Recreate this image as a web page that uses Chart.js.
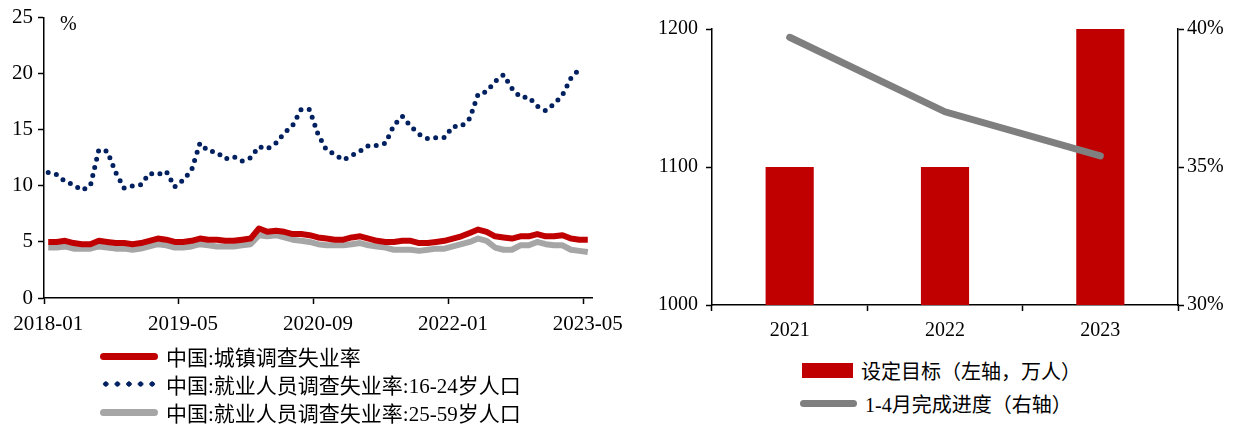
<!DOCTYPE html>
<html>
<head>
<meta charset="utf-8">
<script src="https://cdn.jsdelivr.net/npm/chart.js@4.4.0/dist/chart.umd.min.js"></script>
<style>
    html, body { margin: 0; padding: 0; background: #fff; }
    #wrap { position: relative; width: 1249px; height: 428px; overflow: hidden;
            font-family: "Liberation Serif", "Noto Sans CJK SC", serif; color: #000; }
    #leftChart  { position: absolute; left: 0; top: 0; }
    #rightChart { position: absolute; left: 620px; top: 0; }
    .item { position: absolute; height: 28px; display: flex; align-items: center; white-space: nowrap; }
    .sw   { display: inline-block; margin-right: 8px; }
</style>
</head>
<body>
<div id="wrap">
    <canvas id="leftChart" width="660" height="345"></canvas>
    <canvas id="rightChart" width="629" height="345"></canvas>
    <div id="legendLeft"></div>
    <div id="legendRight"></div>
</div>

<script>
// ============================================================
// 左图：失业率（月度，2018-01 ~ 2023-05）
// ============================================================

var START_YEAR  = 2018;
var MONTH_COUNT = 65;
var MONTHS = [];
for (var k = 0; k < MONTH_COUNT; k++) {
    var yy = START_YEAR + Math.floor(k / 12);
    var mm = (k % 12) + 1;
    MONTHS.push(yy + "-" + (mm < 10 ? "0" + mm : mm));
}

var SERIES_NAMES = [
    "中国:城镇调查失业率",
    "中国:就业人员调查失业率:16-24岁人口",
    "中国:就业人员调查失业率:25-59岁人口"
];

// 城镇调查失业率
var URBAN = [
    5.0, 5.0, 5.1, 4.9, 4.8, 4.8, 5.1, 5.0, 4.9, 4.9, 4.8, 4.9,
    5.1, 5.3, 5.2, 5.0, 5.0, 5.1, 5.3, 5.2, 5.2, 5.1, 5.1, 5.2,
    5.3, 6.2, 5.9, 6.0, 5.9, 5.7, 5.7, 5.6, 5.4, 5.3, 5.2, 5.2,
    5.4, 5.5, 5.3, 5.1, 5.0, 5.0, 5.1, 5.1, 4.9, 4.9, 5.0, 5.1,
    5.3, 5.5, 5.8, 6.1, 5.9, 5.5, 5.4, 5.3, 5.5, 5.5, 5.7, 5.5,
    5.5, 5.6, 5.3, 5.2, 5.2
];

// 16-24岁（到 2023-04）
var YOUTH = [
    11.2, 11.0, 10.4, 10.1, 9.6, 10.0, 13.2, 13.1, 11.2, 9.8, 10.0, 10.1,
    11.1, 11.0, 11.3, 9.9, 10.5, 11.4, 13.8, 13.1, 13.0, 12.4, 12.6, 12.2,
    12.5, 13.5, 13.3, 13.8, 14.7, 15.4, 16.8, 16.8, 14.6, 13.2, 12.8, 12.3,
    12.7, 13.1, 13.6, 13.6, 13.8, 15.4, 16.2, 15.3, 14.6, 14.2, 14.3, 14.3,
    15.3, 15.3, 16.0, 18.2, 18.4, 19.3, 19.9, 18.7, 17.9, 17.9, 17.1, 16.7,
    17.3, 18.1, 19.6, 20.4
];

// 25-59岁
var PRIME = [
    4.5, 4.5, 4.6, 4.4, 4.4, 4.4, 4.6, 4.5, 4.4, 4.4, 4.3, 4.4,
    4.6, 4.8, 4.7, 4.5, 4.5, 4.6, 4.8, 4.7, 4.6, 4.6, 4.6, 4.7,
    4.8, 5.6, 5.5, 5.6, 5.4, 5.2, 5.1, 5.0, 4.8, 4.7, 4.7, 4.7,
    4.8, 4.9, 4.7, 4.6, 4.5, 4.3, 4.3, 4.3, 4.2, 4.3, 4.4, 4.4,
    4.6, 4.8, 5.0, 5.3, 5.1, 4.5, 4.3, 4.3, 4.7, 4.7, 5.0, 4.8,
    4.7, 4.7, 4.3, 4.2, 4.1
];

var LEFT_TICK_EVERY = 16;

// ============================================================
// 右图：目标与完成进度
// ============================================================

var YEARS        = ["2021", "2022", "2023"];
var TARGET       = [1100, 1100, 1200];   // 万人
var PROGRESS     = [39.7, 37.0, 35.4];   // %
var RIGHT_NAMES  = ["设定目标（左轴，万人）", "1-4月完成进度（右轴）"];

var RED   = "#c00000";
var NAVY  = "#002060";
var LGRAY = "#a6a6a6";
var DGRAY = "#7f7f7f";
var FONT  = "'Liberation Serif', 'Noto Sans CJK SC', serif";

Chart.defaults.font.family = FONT;
Chart.defaults.color = "#000";

function fixWidth(w)  { return function (s) { s.width = w; }; }
function fixHeight(h) { return function (s) { s.height = h; }; }

// "%" 单位标注
var unitLabel = {
    id: "unitLabel",
    afterDraw: function (chart) {
        var ctx = chart.ctx;
        ctx.save();
        ctx.font = "20px " + FONT;
        ctx.fillStyle = "#000";
        ctx.fillText("%", chart.chartArea.left + 16, chart.chartArea.top + 12);
        ctx.restore();
    }
};

new Chart(document.getElementById("leftChart"), {
    type: "line",
    data: {
        labels: MONTHS,
        datasets: [
            { label: SERIES_NAMES[1], data: YOUTH, borderColor: NAVY, borderWidth: 5,
              borderDash: [0, 8.4], borderCapStyle: "round", pointRadius: 0, tension: 0, order: 0 },
            { label: SERIES_NAMES[0], data: URBAN, borderColor: RED, borderWidth: 6,
              borderJoinStyle: "round", pointRadius: 0, tension: 0, order: 1 },
            { label: SERIES_NAMES[2], data: PRIME, borderColor: LGRAY, borderWidth: 6,
              borderJoinStyle: "round", pointRadius: 0, tension: 0, order: 2 }
        ]
    },
    options: {
        responsive: false,
        animation: false,
        layout: { padding: { top: 16, right: 68, bottom: 7, left: 0 } },
        plugins: { legend: { display: false }, tooltip: { enabled: false } },
        scales: {
            x: {
                offset: true,
                afterFit: fixHeight(40),
                border: { color: "#000", width: 1.5 },
                grid: {
                    offset: true,
                    drawOnChartArea: false,
                    tickLength: 6,
                    tickWidth: 1.5,
                    tickColor: function (c) { return c.index % LEFT_TICK_EVERY === 0 ? "#000" : "rgba(0,0,0,0)"; }
                },
                ticks: {
                    autoSkip: false, maxRotation: 0, padding: 8,
                    font: { size: 21 },
                    callback: function (v, i) { return i % LEFT_TICK_EVERY === 0 ? this.getLabelForValue(v) : ""; }
                }
            },
            y: {
                min: 0, max: 25,
                afterFit: fixWidth(44),
                border: { color: "#000", width: 1.5 },
                grid: { drawOnChartArea: false, tickLength: 6, tickWidth: 1.5, tickColor: "#000" },
                ticks: { stepSize: 5, padding: 5, font: { size: 21 } }
            }
        }
    },
    plugins: [unitLabel]
});

new Chart(document.getElementById("rightChart"), {
    data: {
        labels: YEARS,
        datasets: [
            { type: "line", label: RIGHT_NAMES[1], data: PROGRESS, yAxisID: "y1",
              borderColor: DGRAY, borderWidth: 7, borderCapStyle: "round", pointRadius: 0, order: 0 },
            { type: "bar", label: RIGHT_NAMES[0], data: TARGET, yAxisID: "y",
              backgroundColor: RED, categoryPercentage: 1, barPercentage: 0.31, order: 1 }
        ]
    },
    options: {
        responsive: false,
        animation: false,
        layout: { padding: { top: 29, right: 0, bottom: 0, left: 0 } },
        plugins: { legend: { display: false }, tooltip: { enabled: false } },
        scales: {
            x: {
                offset: true,
                afterFit: fixHeight(40),
                border: { color: "#000", width: 1.5 },
                grid: { offset: true, drawOnChartArea: false, tickLength: 6, tickWidth: 1.5, tickColor: "#000" },
                ticks: { padding: 8, font: { size: 20 } }
            },
            y: {
                position: "left",
                min: 1000, max: 1200,
                afterFit: fixWidth(92),
                border: { color: "#000", width: 1.5 },
                grid: { drawOnChartArea: false, tickLength: 6, tickWidth: 1.5, tickColor: "#000" },
                ticks: { stepSize: 100, padding: 8, font: { size: 20 },
                         callback: function (v) { return String(v); } }
            },
            y1: {
                position: "right",
                min: 30, max: 40,
                afterFit: fixWidth(71),
                border: { color: "#000", width: 1.5 },
                grid: { drawOnChartArea: false, tickLength: 6, tickWidth: 1.5, tickColor: "#000" },
                ticks: { stepSize: 5, padding: 3, font: { size: 20 },
                         callback: function (v) { return v + "%"; } }
            }
        }
    }
});

// ============================================================
// 图例（HTML）
// ============================================================

function legendItem(parent, left, centerY, swatch, text, size) {
    var row = document.createElement("div");
    row.className = "item";
    row.style.left = left + "px";
    row.style.top = (centerY - 14) + "px";
    row.style.fontSize = size + "px";
    row.appendChild(swatch);
    var span = document.createElement("span");
    span.textContent = text;
    row.appendChild(span);
    parent.appendChild(row);
}

function lineSwatch(color, w, h) {
    var d = document.createElement("span");
    d.className = "sw";
    d.style.width = w + "px";
    d.style.height = h + "px";
    d.style.borderRadius = (h / 2) + "px";
    d.style.background = color;
    return d;
}

function dotSwatch(color, w) {
    var d = document.createElement("span");
    d.className = "sw";
    d.style.width = w + "px";
    d.style.height = "8px";
    d.style.background = "radial-gradient(circle at center, " + color + " 2.4px, rgba(0,0,0,0) 2.9px) 0 0 / 11.6px 8px repeat-x";
    return d;
}

function boxSwatch(color, w, h) {
    var d = document.createElement("span");
    d.className = "sw";
    d.style.width = w + "px";
    d.style.height = h + "px";
    d.style.background = color;
    return d;
}

var lg = document.getElementById("legendLeft");
legendItem(lg, 100, 356, lineSwatch(RED, 58, 7),   SERIES_NAMES[0], 21);
legendItem(lg, 100, 384, dotSwatch(NAVY, 58),      SERIES_NAMES[1], 21);
legendItem(lg, 100, 412, lineSwatch(LGRAY, 58, 7), SERIES_NAMES[2], 21);

var rg = document.getElementById("legendRight");
legendItem(rg, 802, 370, boxSwatch(RED, 51, 15),   RIGHT_NAMES[0], 20);
legendItem(rg, 800, 403, lineSwatch(DGRAY, 57, 7), RIGHT_NAMES[1], 20);
</script>
</body>
</html>
